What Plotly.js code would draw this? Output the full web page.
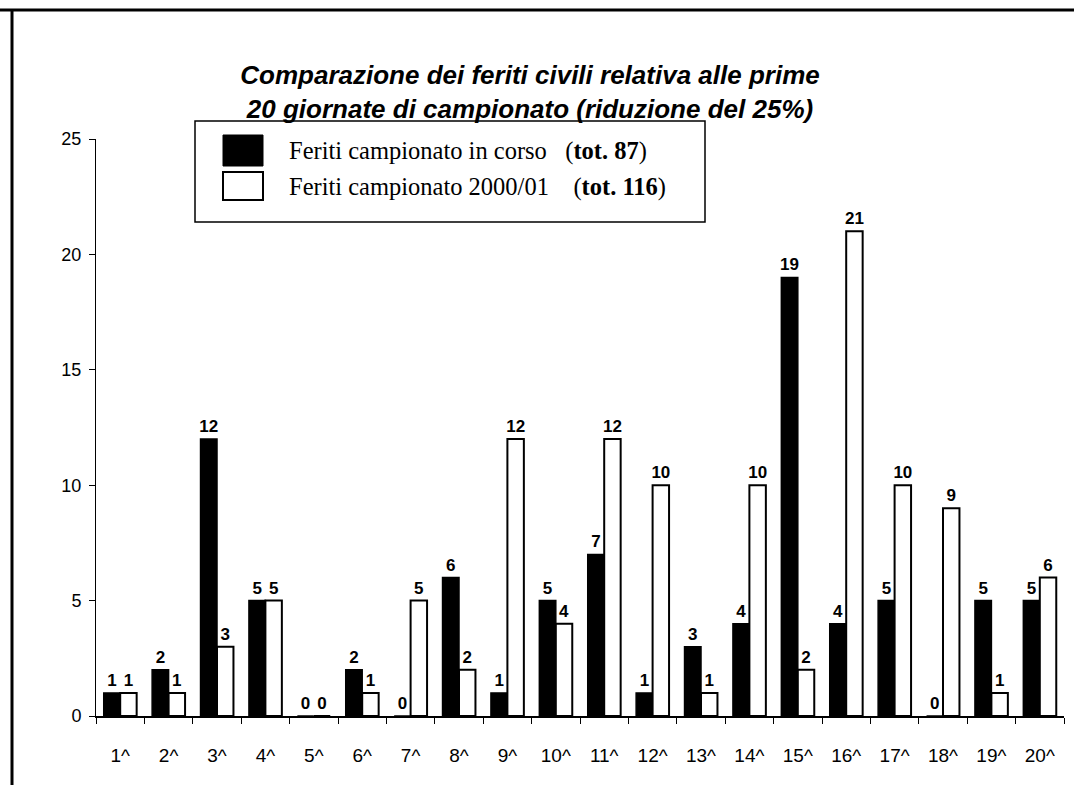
<!DOCTYPE html>
<html>
<head>
<meta charset="utf-8">
<script src="https://cdn.plot.ly/plotly-3.0.1.min.js"></script>
<style>html,body{margin:0;padding:0;background:#fff;}#chart{width:1074px;height:787px;}</style>
</head>
<body>
<div id="chart"></div>
<script>
const categories = ["1^","2^","3^","4^","5^","6^","7^","8^","9^","10^","11^","12^","13^","14^","15^","16^","17^","18^","19^","20^"];
const currentSeason = [1,2,12,5,0,2,0,6,1,5,7,1,3,4,19,4,5,0,5,5];
const season2000 = [1,1,3,5,0,1,5,2,12,4,12,10,1,10,2,21,10,9,1,6];
const seriesNames = ["Feriti campionato in corso", "Feriti campionato 2000/01"];
const seriesTotals = ["tot. 87", "tot. 116"];
const titleText = "Comparazione dei feriti civili relativa alle prime<br>20 giornate di campionato (riduzione del 25%)";
const yTicks = [0,5,10,15,20,25];

const labelFont = {family: "Liberation Sans, Arial, sans-serif", size: 17, color: "#000", weight: "bold"};

const traces = [
  {type: "bar", name: seriesNames[0], x: categories, y: currentSeason,
   text: currentSeason.map(String), textposition: "outside", cliponaxis: false, constraintext: "none",
   textfont: labelFont, marker: {color: "#000", line: {color: "#000", width: 1.5}}, showlegend: false},
  {type: "bar", name: seriesNames[1], x: categories, y: season2000,
   text: season2000.map(String), textposition: "outside", cliponaxis: false, constraintext: "none",
   textfont: labelFont, marker: {color: "#fff", line: {color: "#000", width: 2}}, showlegend: false}
];

const L = 96, R = 10, T = 139, B = 71, W = 1074, H = 787;
const pw = W - L - R, ph = H - T - B;
const px = v => (v - L) / pw;
const py = v => (H - B - v) / ph;

const shapes = [
  {type: "line", xref: "paper", yref: "paper", x0: px(0), x1: px(1074), y0: py(10), y1: py(10), line: {color: "#000", width: 3}},
  {type: "line", xref: "paper", yref: "paper", x0: px(12), x1: px(12), y0: py(10), y1: py(785), line: {color: "#000", width: 3}},
  {type: "rect", xref: "paper", yref: "paper", x0: px(195), x1: px(705), y0: py(121), y1: py(222), line: {color: "#000", width: 1.5}, fillcolor: "#fff"},
  {type: "rect", xref: "paper", yref: "paper", x0: px(223), x1: px(263), y0: py(135), y1: py(166), line: {color: "#000", width: 1}, fillcolor: "#000"},
  {type: "rect", xref: "paper", yref: "paper", x0: px(223), x1: px(263), y0: py(172), y1: py(200), line: {color: "#000", width: 2}, fillcolor: "#fff"}
];

const legFont = {family: "Liberation Serif, Times New Roman, serif", size: 24.5, color: "#000"};
const annotations = [
  {xref: "paper", yref: "paper", x: px(287), y: py(151), xanchor: "left", yanchor: "middle", showarrow: false,
   text: seriesNames[0] + "&nbsp;&nbsp;&nbsp;(<b>" + seriesTotals[0] + "</b>)", font: legFont},
  {xref: "paper", yref: "paper", x: px(287), y: py(187), xanchor: "left", yanchor: "middle", showarrow: false,
   text: seriesNames[1] + "&nbsp;&nbsp;&nbsp;&nbsp;(<b>" + seriesTotals[1] + "</b>)", font: legFont}
];

const layout = {
  width: W, height: H,
  margin: {l: L, r: R, t: T, b: B, pad: 0},
  paper_bgcolor: "#fff", plot_bgcolor: "#fff",
  barmode: "group", bargap: 0.32, bargroupgap: 0,
  title: {text: titleText, xref: "container", yref: "container", x: 530 / W, xanchor: "center",
          y: 1 - 84 / H, yanchor: "top",
          font: {family: "Liberation Sans, Arial, sans-serif", size: 26, color: "#000", weight: "bold", style: "italic"}},
  xaxis: {type: "category", showline: true, linecolor: "#000", linewidth: 1.5, ticks: "outside", tickson: "boundaries",
          ticklen: 6, tickcolor: "#000", showgrid: false, zeroline: false, ticklabelstandoff: 22,
          tickfont: {family: "Liberation Sans, Arial, sans-serif", size: 19, color: "#000"}},
  yaxis: {range: [0, 25], tickvals: yTicks, showline: true, linecolor: "#000", linewidth: 1, ticks: "outside",
          ticklen: 6, tickcolor: "#000", showgrid: false, zeroline: false, ticklabelstandoff: 4,
          tickfont: {family: "Liberation Sans, Arial, sans-serif", size: 18, color: "#000"}},
  shapes: shapes, annotations: annotations, showlegend: false
};

Plotly.newPlot("chart", traces, layout, {displayModeBar: false, staticPlot: true});
</script>
</body>
</html>
